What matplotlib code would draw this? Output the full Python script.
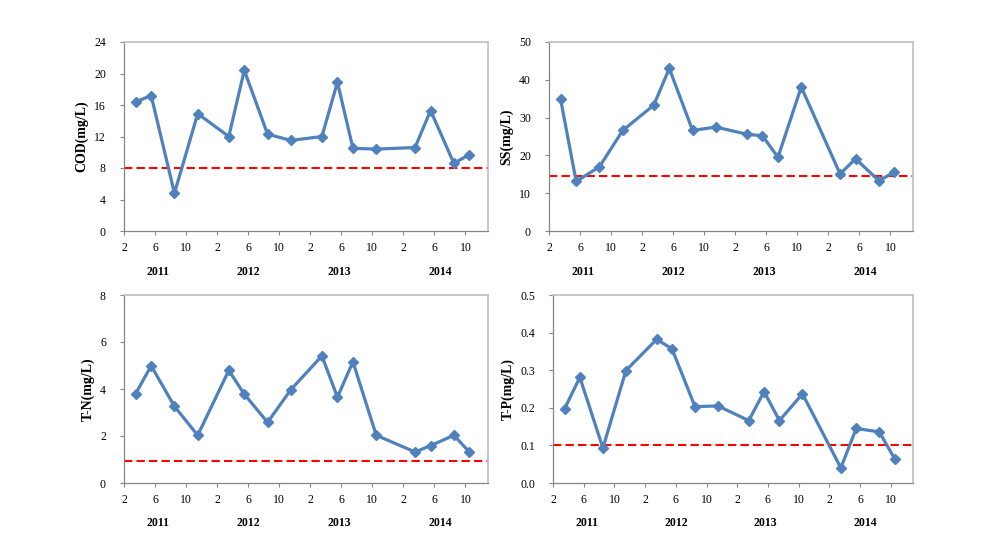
import matplotlib
matplotlib.use("Agg")
import matplotlib.pyplot as plt
import matplotlib.transforms as mtransforms
import numpy as np

plt.rcParams['font.family'] = ['Liberation Serif', 'DejaVu Serif']

# sampling months, counted from Jan 2011 = 1 (sampled around mid-month)
months = [3, 5, 8, 11, 15, 17, 20, 23, 27, 29, 31, 34, 39, 41, 44, 46]

cod = [16.4, 17.2, 4.8, 14.9, 12.0, 20.4, 12.3, 11.5, 12.0, 18.9, 10.5, 10.4,
       10.6, 15.3, 8.6, 9.7]
ss = [34.8, 13.1, 17.0, 26.6, 33.3, 43.0, 26.6, 27.5, 25.6, 25.2, 19.5, 38.1,
      15.1, 19.1, 13.3, 15.6]
tn = [3.80, 4.99, 3.26, 2.03, 4.79, 3.78, 2.58, 3.97, 5.41, 3.65, 5.16, 2.03,
      1.32, 1.59, 2.03, 1.32]
tp = [0.197, 0.281, 0.093, 0.299, 0.382, 0.357, 0.203, 0.205, 0.166, 0.243,
      0.166, 0.237, 0.040, 0.145, 0.136, 0.065]

# water quality standard lines
limits = {'COD': 8.0, 'SS': 14.6, 'T-N': 0.95, 'T-P': 0.10}

tick_pos = [2, 6, 10, 14, 18, 22, 26, 30, 34, 38, 42, 46]
tick_labels = ['2', '6', '10'] * 4
years = ['2011', '2012', '2013', '2014']
year_pos = [6.4, 18.0, 29.7, 42.7]

W, H = 998, 547
fig = plt.figure(figsize=(W / 100, H / 100), dpi=100)


def make_axes(left, top, right, bottom):
    return fig.add_axes([left / W, 1 - bottom / H, (right - left) / W,
                         (bottom - top) / H])


panels = [
    (make_axes(124, 42, 488, 231), cod, 'COD(mg/L)', 'COD', (0, 24), 4, '%d'),
    (make_axes(549, 42, 913, 231), ss, 'SS(mg/L)', 'SS', (0, 50), 10, '%d'),
    (make_axes(124, 295, 488, 483), tn, 'T-N(mg/L)', 'T-N', (0, 8), 2, '%d'),
    (make_axes(553, 295, 913, 483), tp, 'T-P(mg/L)', 'T-P', (0, 0.5), 0.1, '%.1f'),
]

x = np.array(months) + 0.5

for ax, vals, ylab, key, ylim, step, fmt in panels:
    ax.plot(x, vals, color='#4F81BD', lw=2.3, marker='D', ms=5,
            markeredgecolor='#4F81BD', zorder=3)
    ax.axhline(limits[key], color='#FF0000', lw=1.5, ls=(0, (4, 2)), zorder=2)

    ax.set_xlim(2, 48.9)
    ax.set_ylim(*ylim)
    yt = np.arange(ylim[0], ylim[1] + step / 2, step)
    ax.set_yticks(yt)
    ax.set_yticklabels([fmt % v for v in yt])
    ax.set_xticks(tick_pos)
    ax.set_xticklabels(tick_labels)

    # excel puts the labels a little right of the tick marks
    offset = mtransforms.ScaledTranslation(4 / 100, 0, fig.dpi_scale_trans)
    for lab in ax.get_xticklabels():
        lab.set_transform(lab.get_transform() + offset)

    ax.tick_params(axis='both', direction='out', length=3, width=0.8,
                   color='#868686', labelsize=8.5)
    ax.tick_params(axis='y', pad=10)
    ax.tick_params(axis='x', pad=5)
    for side in ['left', 'bottom']:
        ax.spines[side].set_color('#868686')
        ax.spines[side].set_linewidth(0.9)
    for side in ['top', 'right']:
        ax.spines[side].set_color('#BFBFBF')
        ax.spines[side].set_linewidth(1.2)

    ax.set_ylabel(ylab, fontsize=10, fontweight='bold', labelpad=4)

    trans = mtransforms.blended_transform_factory(ax.transData, ax.transAxes)
    for yr, xp in zip(years, year_pos):
        ax.text(xp, -0.215, yr, transform=trans, ha='center', va='center',
                fontsize=8.5, fontweight='bold')

fig.savefig('out.png', dpi=100)
